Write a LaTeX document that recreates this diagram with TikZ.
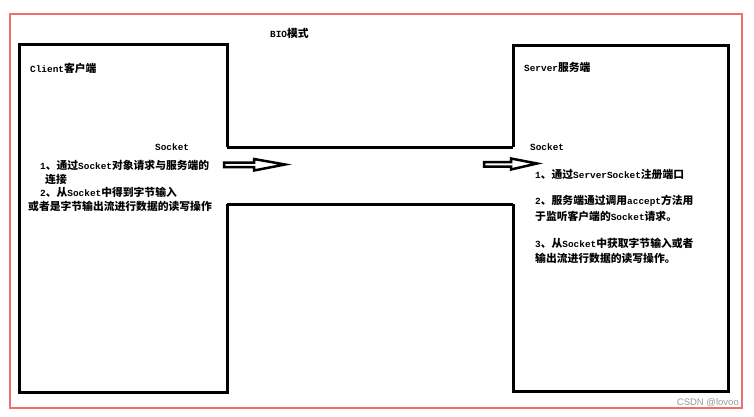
\documentclass[tikz,border=0pt]{standalone}
\usepackage{fontspec}
\setmainfont{Liberation Mono}
\newfontfamily\cjk{Noto Sans CJK SC}
\newfontfamily\wmfont{Liberation Sans}
\newcommand\zh[1]{{\cjk\fontsize{10.8}{12}\selectfont #1}}
\definecolor{frame}{RGB}{240,110,110}
\definecolor{wm}{RGB}{150,150,150}
\tikzset{
  boxline/.style={line width=3pt, line join=miter},
  blockarrow/.style={line width=2.5pt, line join=miter, fill=white},
  txt/.style={anchor=west, inner sep=0pt, font=\fontsize{9.4}{11}\selectfont\bfseries},
}
\begin{document}
\begin{tikzpicture}[x=1pt,y=-1pt]
\useasboundingbox (0,0) rectangle (754,417);
% red frame
\draw[frame, line width=1.2pt] (10,14) rectangle (742,408);
% client box (open on the right between the channel lines)
\draw[boxline] (227,147) -- (227,45) -- (19,45) -- (19,392) -- (227,392) -- (227,204);
% server box (open on the left between the channel lines)
\draw[boxline] (513,147) -- (513,46) -- (728,46) -- (728,391) -- (513,391) -- (513,204);
% channel
\draw[boxline] (227,147) -- (513,147);
\draw[boxline] (227,204) -- (513,204);
% block arrows
\draw[blockarrow] (224,162.5) -- (254,162.5) -- (254,159) -- (285,164.5) -- (254,170.5) -- (254,167) -- (224,167) -- cycle;
\draw[blockarrow] (484,162) -- (511,162) -- (511,158.5) -- (537,163.5) -- (511,169.5) -- (511,166.5) -- (484,166.5) -- cycle;
% texts
\node[txt] (title) at (270,33) {BIO\zh{模式}};
\node[txt] (client) at (30,68) {Client\zh{客户端}};
\node[txt] (server) at (524,67) {Server\zh{服务端}};
\node[txt] (csock) at (155,147) {Socket};
\node[txt] (ssock) at (530,147) {Socket};
\node[txt] (c1) at (40,165) {1\zh{、通过}Socket\zh{对象请求与服务端的}};
\node[txt] (c1b) at (45,179) {\zh{连接}};
\node[txt] (c2) at (40,192) {2\zh{、从}Socket\zh{中得到字节输入}};
\node[txt] (c2b) at (28,206) {\zh{或者是字节输出流进行数据的读写操作}};
\node[txt] (s1) at (535,174) {1\zh{、通过}ServerSocket\zh{注册端口}};
\node[txt] (s2) at (535,201) {2\zh{、服务端通过调用}accept\zh{方法用}};
\node[txt] (s2b) at (535,216) {\zh{于监听客户端的}Socket\zh{请求。}};
\node[txt] (s3) at (535,243) {3\zh{、从}Socket\zh{中获取字节输入或者}};
\node[txt] (s3b) at (535,258) {\zh{输出流进行数据的读写操作。}};
\node[anchor=east, inner sep=0pt, text=wm, font=\wmfont\fontsize{9.5}{11}\selectfont] (wmark) at (739,403) {CSDN @lovoo};
\end{tikzpicture}
\end{document}
